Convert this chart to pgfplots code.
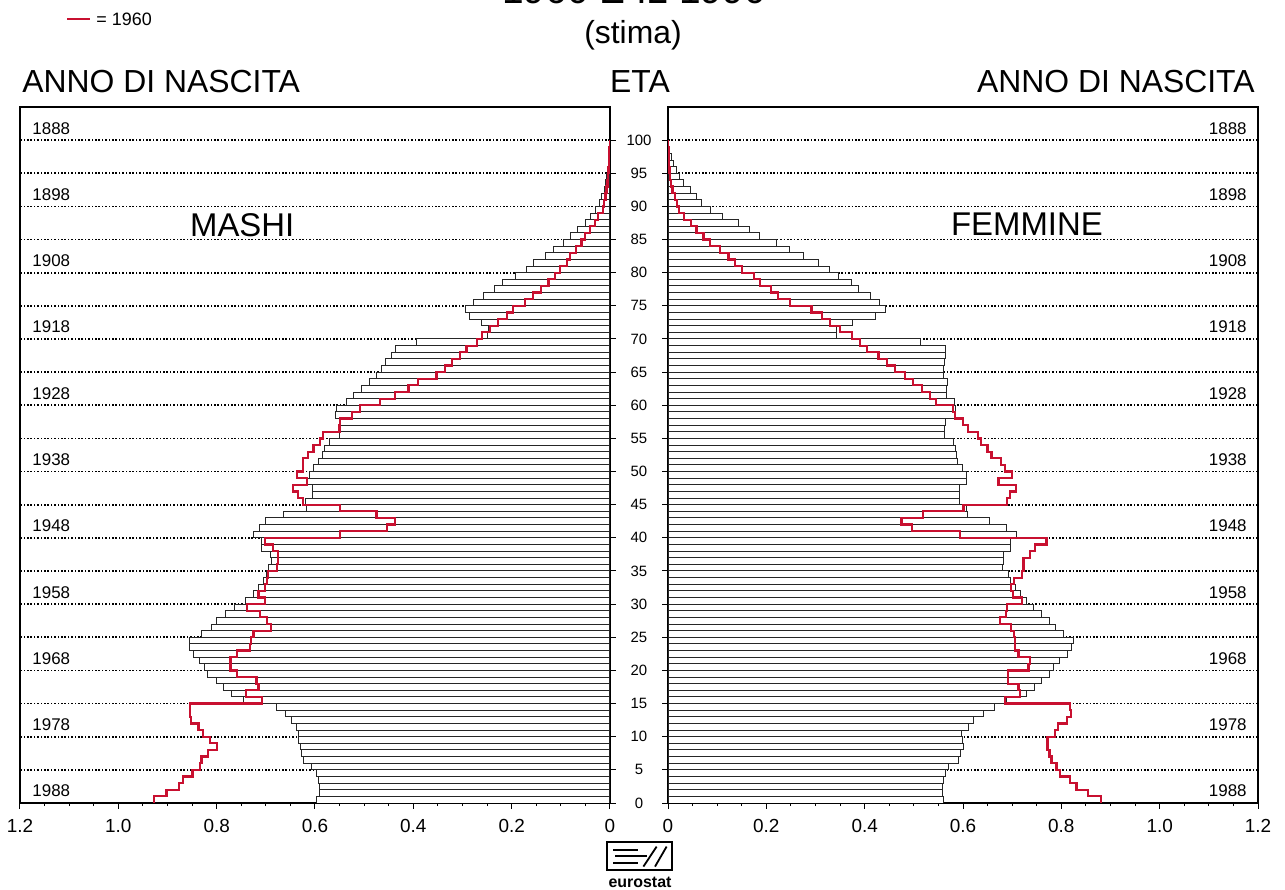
\documentclass[border=0pt]{standalone}
\usepackage{fontspec}
\setmainfont{Liberation Sans}
\usepackage{pgfplots}
\usepackage{pgfplotstable}
\pgfplotsset{compat=1.18}
\definecolor{redline}{RGB}{200,16,48}

\pgfplotstableread{
age m90 m60 f90 f60
0 0.597 0.927 0.561 0.880
1 0.590 0.902 0.559 0.855
2 0.591 0.876 0.559 0.831
3 0.593 0.869 0.560 0.818
4 0.597 0.849 0.565 0.797
5 0.607 0.834 0.570 0.790
6 0.624 0.831 0.591 0.780
7 0.627 0.817 0.594 0.776
8 0.630 0.800 0.601 0.772
9 0.633 0.814 0.599 0.772
10 0.634 0.828 0.597 0.787
11 0.637 0.837 0.611 0.794
12 0.647 0.853 0.621 0.811
13 0.660 0.854 0.641 0.819
14 0.678 0.854 0.665 0.818
15 0.746 0.708 0.689 0.685
16 0.770 0.740 0.729 0.716
17 0.786 0.715 0.746 0.713
18 0.801 0.719 0.760 0.692
19 0.818 0.759 0.776 0.692
20 0.824 0.772 0.784 0.733
21 0.835 0.772 0.797 0.736
22 0.847 0.758 0.812 0.713
23 0.855 0.732 0.821 0.706
24 0.856 0.730 0.824 0.706
25 0.830 0.725 0.804 0.703
26 0.811 0.690 0.789 0.697
27 0.800 0.698 0.776 0.675
28 0.783 0.712 0.759 0.687
29 0.764 0.739 0.743 0.690
30 0.742 0.702 0.729 0.720
31 0.725 0.715 0.716 0.702
32 0.715 0.702 0.706 0.697
33 0.705 0.698 0.697 0.703
34 0.698 0.695 0.692 0.720
35 0.695 0.678 0.681 0.723
36 0.688 0.675 0.682 0.723
37 0.690 0.675 0.682 0.736
38 0.708 0.685 0.697 0.746
39 0.708 0.702 0.697 0.770
40 0.725 0.549 0.709 0.594
41 0.712 0.454 0.689 0.496
42 0.700 0.437 0.654 0.475
43 0.664 0.475 0.610 0.519
44 0.617 0.549 0.607 0.601
45 0.620 0.624 0.592 0.690
46 0.605 0.634 0.592 0.695
47 0.605 0.645 0.592 0.708
48 0.615 0.617 0.607 0.672
49 0.612 0.637 0.607 0.700
50 0.603 0.624 0.599 0.685
51 0.592 0.624 0.589 0.677
52 0.584 0.614 0.586 0.658
53 0.580 0.603 0.584 0.650
54 0.570 0.590 0.580 0.637
55 0.550 0.583 0.563 0.630
56 0.550 0.550 0.563 0.610
57 0.550 0.549 0.565 0.600
58 0.559 0.525 0.584 0.583
59 0.556 0.508 0.584 0.580
60 0.536 0.468 0.582 0.545
61 0.522 0.437 0.567 0.533
62 0.505 0.410 0.567 0.516
63 0.490 0.390 0.568 0.499
64 0.475 0.353 0.561 0.482
65 0.464 0.336 0.560 0.462
66 0.456 0.322 0.563 0.445
67 0.444 0.305 0.565 0.428
68 0.437 0.292 0.565 0.405
69 0.393 0.271 0.513 0.390
70 0.250 0.261 0.342 0.374
71 0.247 0.244 0.342 0.350
72 0.261 0.227 0.376 0.329
73 0.286 0.210 0.423 0.313
74 0.294 0.197 0.443 0.292
75 0.278 0.173 0.431 0.248
76 0.258 0.156 0.411 0.224
77 0.234 0.140 0.387 0.209
78 0.218 0.125 0.374 0.187
79 0.193 0.112 0.346 0.175
80 0.170 0.102 0.329 0.150
81 0.155 0.088 0.306 0.136
82 0.131 0.081 0.275 0.123
83 0.114 0.069 0.247 0.106
84 0.095 0.058 0.221 0.085
85 0.081 0.051 0.187 0.072
86 0.066 0.041 0.165 0.058
87 0.050 0.031 0.144 0.046
88 0.040 0.024 0.111 0.033
89 0.030 0.015 0.087 0.023
90 0.022 0.012 0.068 0.018
91 0.017 0.009 0.058 0.014
92 0.012 0.007 0.045 0.009
93 0.009 0.005 0.031 0.006
94 0.007 0.004 0.024 0.004
95 0.005 0.003 0.018 0.003
96 0.004 0.002 0.012 0.002
97 0.003 0.001 0.007 0.001
98 0.002 0.001 0.003 0.001
99 0.001 0.000 0.001 0.000
100 0 0 0 0
}\data

\pgfplotsset{
  pyr/.style={
    scale only axis, width=295bp, height=348bp, anchor=south west,
    xmin=0, xmax=1.2, ymin=0, ymax=105,
    xtick={0,0.2,0.4,0.6,0.8,1.0,1.2},
    xticklabels={0,0.2,0.4,0.6,0.8,1.0,1.2},
    minor x tick num=3,
    xtick pos=left,
    ytick={0,5,10,15,20,25,30,35,40,45,50,55,60,65,70,75,80,85,90,95,100},
    tick align=outside,
    major tick length=3bp, minor tick length=1.6bp,
    every tick/.style={black, line width=0.5bp},
    axis line style={black, line width=0.6bp},
    ymajorgrids,
    major grid style={black, line width=0.9bp, dash pattern=on 0.8bp off 0.9bp},
    xticklabel style={font=\fontsize{9.5}{11}\selectfont, yshift=-1.5bp},
  },
  bars/.style={xbar, bar width=1, bar shift=0pt, fill=white, draw=black!85, line width=0.5bp},
  redstep/.style={const plot mark right, redline, line width=1.1bp, mark=none},
}
\tikzset{yr/.style={font=\fontsize{8.5}{10}\selectfont, inner sep=0pt}}

\begin{document}
\begin{tikzpicture}
% ---------------- left: males ----------------
\begin{axis}[pyr, at={(10bp,43.5bp)}, x dir=reverse,
  ytick pos=right, yticklabel pos=right,
  yticklabels={0,5,10,15,20,25,30,35,40,45,50,55,60,65,70,75,80,85,90,95,100},
  yticklabel style={anchor=center, xshift=11.5bp, font=\fontsize{7.5}{9}\selectfont}]
\addplot[bars, skip coords between index={100}{101}] table[x=m90, y expr=\thisrow{age}+0.5] {\data};
\addplot[redstep] table[x=m60, y=age] {\data};
\node[yr, anchor=west] at (axis cs:1.1755,101.8) {1888};
\node[yr, anchor=west] at (axis cs:1.1755,91.8) {1898};
\node[yr, anchor=west] at (axis cs:1.1755,81.8) {1908};
\node[yr, anchor=west] at (axis cs:1.1755,71.8) {1918};
\node[yr, anchor=west] at (axis cs:1.1755,61.8) {1928};
\node[yr, anchor=west] at (axis cs:1.1755,51.8) {1938};
\node[yr, anchor=west] at (axis cs:1.1755,41.8) {1948};
\node[yr, anchor=west] at (axis cs:1.1755,31.8) {1958};
\node[yr, anchor=west] at (axis cs:1.1755,21.8) {1968};
\node[yr, anchor=west] at (axis cs:1.1755,11.8) {1978};
\node[yr, anchor=west] at (axis cs:1.1755,1.8) {1988};
\node[font=\fontsize{16.5}{18}\selectfont] at (axis cs:0.748,87.2) {MASHI};
\end{axis}
% ---------------- right: females ----------------
\begin{axis}[pyr, at={(334bp,43.5bp)},
  ytick pos=left, yticklabels={}]
\addplot[bars, skip coords between index={100}{101}] table[x=f90, y expr=\thisrow{age}+0.5] {\data};
\addplot[redstep] table[x=f60, y=age] {\data};
\node[yr, anchor=east] at (axis cs:1.1776,101.8) {1888};
\node[yr, anchor=east] at (axis cs:1.1776,91.8) {1898};
\node[yr, anchor=east] at (axis cs:1.1776,81.8) {1908};
\node[yr, anchor=east] at (axis cs:1.1776,71.8) {1918};
\node[yr, anchor=east] at (axis cs:1.1776,61.8) {1928};
\node[yr, anchor=east] at (axis cs:1.1776,51.8) {1938};
\node[yr, anchor=east] at (axis cs:1.1776,41.8) {1948};
\node[yr, anchor=east] at (axis cs:1.1776,31.8) {1958};
\node[yr, anchor=east] at (axis cs:1.1776,21.8) {1968};
\node[yr, anchor=east] at (axis cs:1.1776,11.8) {1978};
\node[yr, anchor=east] at (axis cs:1.1776,1.8) {1988};
\node[font=\fontsize{16.5}{18}\selectfont] at (axis cs:0.730,87.3) {FEMMINE};
\end{axis}
% ---------------- headings ----------------
\node[anchor=base west, inner sep=0pt, font=\fontsize{16}{18}\selectfont] at (11bp,398.5bp) {ANNO DI NASCITA};
\node[anchor=base east, inner sep=0pt, font=\fontsize{16}{18}\selectfont] at (627.5bp,398.5bp) {ANNO DI NASCITA};
\node[anchor=base, inner sep=0pt, font=\fontsize{16}{18}\selectfont] at (320bp,398.5bp) {ETA};
\node[anchor=base, inner sep=0pt, font=\fontsize{16}{18}\selectfont] at (316.5bp,423bp) {(stima)};
\node[anchor=base, inner sep=0pt, font=\fontsize{19.5}{22}\selectfont] at (317bp,443bp) {1960 E IL 1990};
% legend
\draw[redline, line width=1.4bp] (33.5bp,435.5bp) -- (45bp,435.5bp);
\node[anchor=base west, inner sep=0pt, font=\fontsize{9}{10}\selectfont] at (48bp,432.3bp) {= 1960};
% eurostat logo
\draw[line width=1bp] (303.5bp,10bp) rectangle (336bp,24bp);
\draw[line width=0.9bp] (306.7bp,20bp) -- (319.2bp,20bp);
\draw[line width=0.9bp] (307.5bp,17bp) -- (323.7bp,17bp);
\draw[line width=0.9bp] (306.7bp,13.3bp) -- (319.2bp,13.3bp);
\draw[line width=0.9bp] (321.7bp,11.7bp) -- (328.3bp,21.7bp);
\draw[line width=0.9bp] (327.5bp,11.7bp) -- (333.3bp,21.7bp);
\node[font=\bfseries\fontsize{8}{9}\selectfont, inner sep=0pt] at (320bp,4bp) {eurostat};
\pgfresetboundingbox
\useasboundingbox (0,0) rectangle (642.5bp,445bp);
\end{tikzpicture}
\end{document}
